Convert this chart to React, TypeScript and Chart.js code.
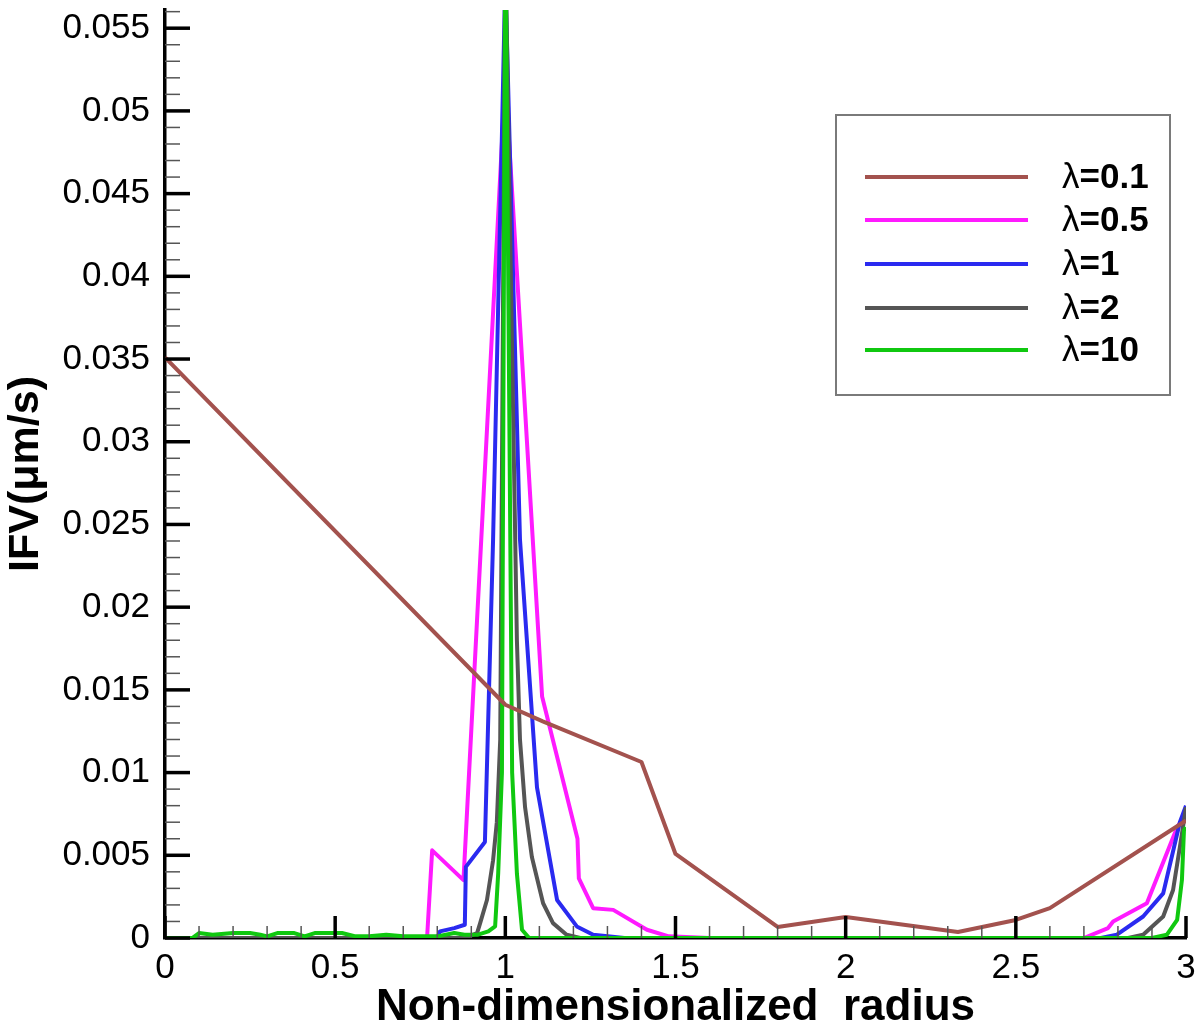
import React, { useEffect, useRef } from "react";
import { Chart, registerables } from "chart.js";

Chart.register(...registerables);

// ---------- tick values / labels ----------
const xTickValues = [0, 0.5, 1, 1.5, 2, 2.5, 3];
const xTickLabels = ["0", "0.5", "1", "1.5", "2", "2.5", "3"];
const yTickValues = [0, 0.005, 0.01, 0.015, 0.02, 0.025, 0.03, 0.035, 0.04, 0.045, 0.05, 0.055];
const yTickLabels = ["0", "0.005", "0.01", "0.015", "0.02", "0.025", "0.03", "0.035", "0.04", "0.045", "0.05", "0.055"];
const xMinorStep = 0.1;
const yMinorStep = 0.001;

const xTitle = "Non-dimensionalized  radius";
const yTitle = "IFV(\u03bcm/s)";

// ---------- series ----------
const seriesLabels = ["\u03bb=0.1", "\u03bb=0.5", "\u03bb=1", "\u03bb=2", "\u03bb=10"];
const seriesColors = ["#a3524e", "#ff1aff", "#2a2af0", "#555555", "#10c810"];

const lambda01X = [0, 1.0, 1.11, 1.4, 1.5, 1.8, 2.0, 2.33, 2.5, 2.6, 3.0];
const lambda01Y = [0.0351, 0.0141, 0.0131, 0.01064, 0.00508, 0.00067, 0.00127, 0.00036, 0.00109, 0.00181, 0.0071];

const lambda05X = [0, 0.77, 0.785, 0.877, 1.0, 1.108, 1.212, 1.216, 1.258, 1.317, 1.416, 1.48, 1.6, 2.7, 2.771, 2.786, 2.885, 2.974, 3.0];
const lambda05Y = [0, 0, 0.0053, 0.0035, 0.052, 0.0146, 0.006, 0.0036, 0.0018, 0.0017, 0.0005, 0.0001, 0, 0, 0.0006, 0.001, 0.0021, 0.0067, 0.0075];

const lambda1X = [0, 0.8, 0.808, 0.85, 0.881, 0.884, 0.94, 0.964, 1.0, 1.043, 1.093, 1.152, 1.21, 1.258, 1.35, 2.75, 2.797, 2.874, 2.933, 2.982, 3.0];
const lambda1Y = [0, 0, 0.0004, 0.0006, 0.0008, 0.0043, 0.0058, 0.0241, 0.058, 0.0241, 0.0091, 0.0023, 0.0007, 0.0002, 0, 0, 0.0002, 0.0013, 0.0027, 0.007, 0.008];

const lambda2X = [0, 0.88, 0.917, 0.926, 0.946, 0.964, 0.975, 0.985, 1.0, 1.034, 1.043, 1.058, 1.078, 1.111, 1.14, 1.18, 1.22, 2.83, 2.874, 2.933, 2.962, 2.982, 3.0];
const lambda2Y = [0, 0, 0.0003, 0.0009, 0.0023, 0.0047, 0.007, 0.012, 0.06, 0.018, 0.012, 0.0079, 0.0049, 0.0021, 0.0009, 0.0002, 0, 0, 0.0002, 0.0013, 0.0029, 0.0055, 0.0079];

const lambda10X = [0, 0.08, 0.1, 0.14, 0.2, 0.25, 0.28, 0.3, 0.33, 0.38, 0.41, 0.44, 0.52, 0.56, 0.6, 0.65, 0.7, 0.8, 0.85, 0.88, 0.92, 0.95, 0.97, 0.979, 0.99, 1.0, 1.02, 1.034, 1.049, 1.07, 2.9, 2.944, 2.974, 2.988, 2.994, 3.0];
const lambda10Y = [0, 0, 0.0003, 0.0002, 0.0003, 0.0003, 0.0002, 0.0001, 0.0003, 0.0003, 0.0001, 0.0003, 0.0003, 0.0001, 0.0001, 0.0002, 0.0001, 0.0001, 0.0003, 0.0002, 0.0002, 0.0004, 0.0007, 0.0039, 0.01, 0.062, 0.01, 0.0039, 0.0005, 0, 0, 0.0002, 0.0011, 0.0035, 0.0065, 0.0067];

const seriesX = [lambda01X, lambda05X, lambda1X, lambda2X, lambda10X];
const seriesY = [lambda01Y, lambda05Y, lambda1Y, lambda2Y, lambda10Y];
const seriesOrder = [0, 4, 3, 2, 1];

const toPoints = (xs: number[], ys: number[]) => xs.map((x, i) => ({ x, y: ys[i] }));

const FONT = "'Liberation Sans', Arial, sans-serif";

// ---------- plugins ----------
const inwardTicksPlugin = {
  id: "inwardTicks",
  afterDraw(chart: any) {
    const { ctx, chartArea, scales } = chart;
    const xs = scales.x;
    const ys = scales.y;
    ctx.save();
    ctx.lineCap = "butt";
    ctx.strokeStyle = "#555555";
    ctx.lineWidth = 1.5;
    for (let v = 0; v <= ys.max + 1e-9; v += yMinorStep) {
      const r = Math.round(v * 1000) / 1000;
      if (Math.abs(r / 0.005 - Math.round(r / 0.005)) < 1e-6) continue;
      const py = ys.getPixelForValue(r);
      ctx.beginPath();
      ctx.moveTo(chartArea.left, py);
      ctx.lineTo(chartArea.left + 15, py);
      ctx.stroke();
    }
    for (let v = 0; v <= xs.max + 1e-9; v += xMinorStep) {
      const r = Math.round(v * 10) / 10;
      if (Math.abs(r / 0.5 - Math.round(r / 0.5)) < 1e-6) continue;
      const px = xs.getPixelForValue(r);
      ctx.beginPath();
      ctx.moveTo(px, chartArea.bottom);
      ctx.lineTo(px, chartArea.bottom - 12);
      ctx.stroke();
    }
    ctx.strokeStyle = "#000000";
    ctx.lineWidth = 3.5;
    yTickValues.forEach((v) => {
      const py = ys.getPixelForValue(v);
      ctx.beginPath();
      ctx.moveTo(chartArea.left, py);
      ctx.lineTo(chartArea.left + 25, py);
      ctx.stroke();
    });
    xTickValues.forEach((v) => {
      const px = xs.getPixelForValue(v);
      ctx.beginPath();
      ctx.moveTo(px, chartArea.bottom);
      ctx.lineTo(px, chartArea.bottom - 22);
      ctx.stroke();
    });
    ctx.restore();
  },
};

const boxLegendPlugin = {
  id: "boxLegend",
  afterDraw(chart: any) {
    const { ctx } = chart;
    ctx.save();
    ctx.strokeStyle = "#7a7a7a";
    ctx.lineWidth = 2;
    ctx.strokeRect(836, 115, 334, 280);
    const rowY = [177, 220, 264, 308, 350];
    chart.data.datasets.forEach((ds: any, i: number) => {
      const y = rowY[i];
      ctx.strokeStyle = ds.borderColor;
      ctx.lineWidth = 4;
      ctx.beginPath();
      ctx.moveTo(865, y);
      ctx.lineTo(1028, y);
      ctx.stroke();
      const label: string = ds.label;
      const sym = label.charAt(0);
      const rest = label.slice(1);
      ctx.fillStyle = "#000000";
      ctx.textBaseline = "middle";
      ctx.textAlign = "left";
      ctx.font = `normal 35px ${FONT}`;
      ctx.fillText(sym, 1062, y + 1);
      const w = ctx.measureText(sym).width;
      ctx.font = `bold 35px ${FONT}`;
      ctx.fillText(rest, 1062 + w, y + 1);
    });
    ctx.restore();
  },
};

export default function App() {
  const canvasRef = useRef<HTMLCanvasElement | null>(null);

  useEffect(() => {
    if (!canvasRef.current) return;
    const chart = new Chart(canvasRef.current, {
      type: "line",
      data: {
        datasets: seriesLabels.map((label, i) => ({
          label,
          data: toPoints(seriesX[i], seriesY[i]),
          borderColor: seriesColors[i],
          backgroundColor: seriesColors[i],
          borderWidth: 4,
          pointRadius: 0,
          tension: 0,
          fill: false,
          borderJoinStyle: "round" as const,
          order: seriesOrder[i],
        })),
      },
      options: {
        animation: false,
        responsive: false,
        devicePixelRatio: 1,
        layout: { padding: { top: 10, right: 14, left: 0, bottom: 0 } },
        plugins: {
          legend: { display: false },
          tooltip: { enabled: false },
          title: { display: false },
        },
        scales: {
          x: {
            type: "linear",
            min: 0,
            max: 3,
            z: 1,
            grid: { display: false, drawTicks: false },
            border: { display: true, color: "#000000", width: 3.5 },
            afterBuildTicks: (scale: any) => {
              scale.ticks = xTickValues.map((v) => ({ value: v }));
            },
            afterFit: (scale: any) => {
              scale.height = 96;
              scale.paddingLeft = 0;
              scale.paddingRight = 0;
            },
            ticks: {
              autoSkip: false,
              maxRotation: 0,
              padding: 9,
              color: "#000000",
              font: { family: FONT, size: 35 },
              callback: (_v: any, i: number) => xTickLabels[i],
            },
            title: {
              display: true,
              text: xTitle,
              color: "#000000",
              padding: { top: 0, bottom: 0 },
              font: { family: FONT, size: 44, weight: "bold" },
            },
          },
          y: {
            type: "linear",
            min: 0,
            max: 0.0561,
            z: 1,
            grid: { display: false, drawTicks: false },
            border: { display: true, color: "#000000", width: 3.5 },
            afterBuildTicks: (scale: any) => {
              scale.ticks = yTickValues.map((v) => ({ value: v }));
            },
            afterFit: (scale: any) => {
              scale.width = 165;
              scale.paddingTop = 0;
              scale.paddingBottom = 0;
            },
            ticks: {
              autoSkip: false,
              padding: 15,
              color: "#000000",
              font: { family: FONT, size: 35 },
              callback: (_v: any, i: number) => yTickLabels[i],
            },
            title: {
              display: true,
              text: yTitle,
              color: "#000000",
              padding: { top: 0, bottom: 0 },
              font: { family: FONT, size: 43, weight: "bold" },
            },
          },
        },
      },
      plugins: [inwardTicksPlugin, boxLegendPlugin],
    } as any);
    return () => chart.destroy();
  }, []);

  return (
    <div style={{ position: "fixed", left: 0, top: 0, width: 1200, height: 1034, background: "#ffffff" }}>
      <canvas ref={canvasRef} width={1200} height={1034} style={{ display: "block" }} />
    </div>
  );
}
